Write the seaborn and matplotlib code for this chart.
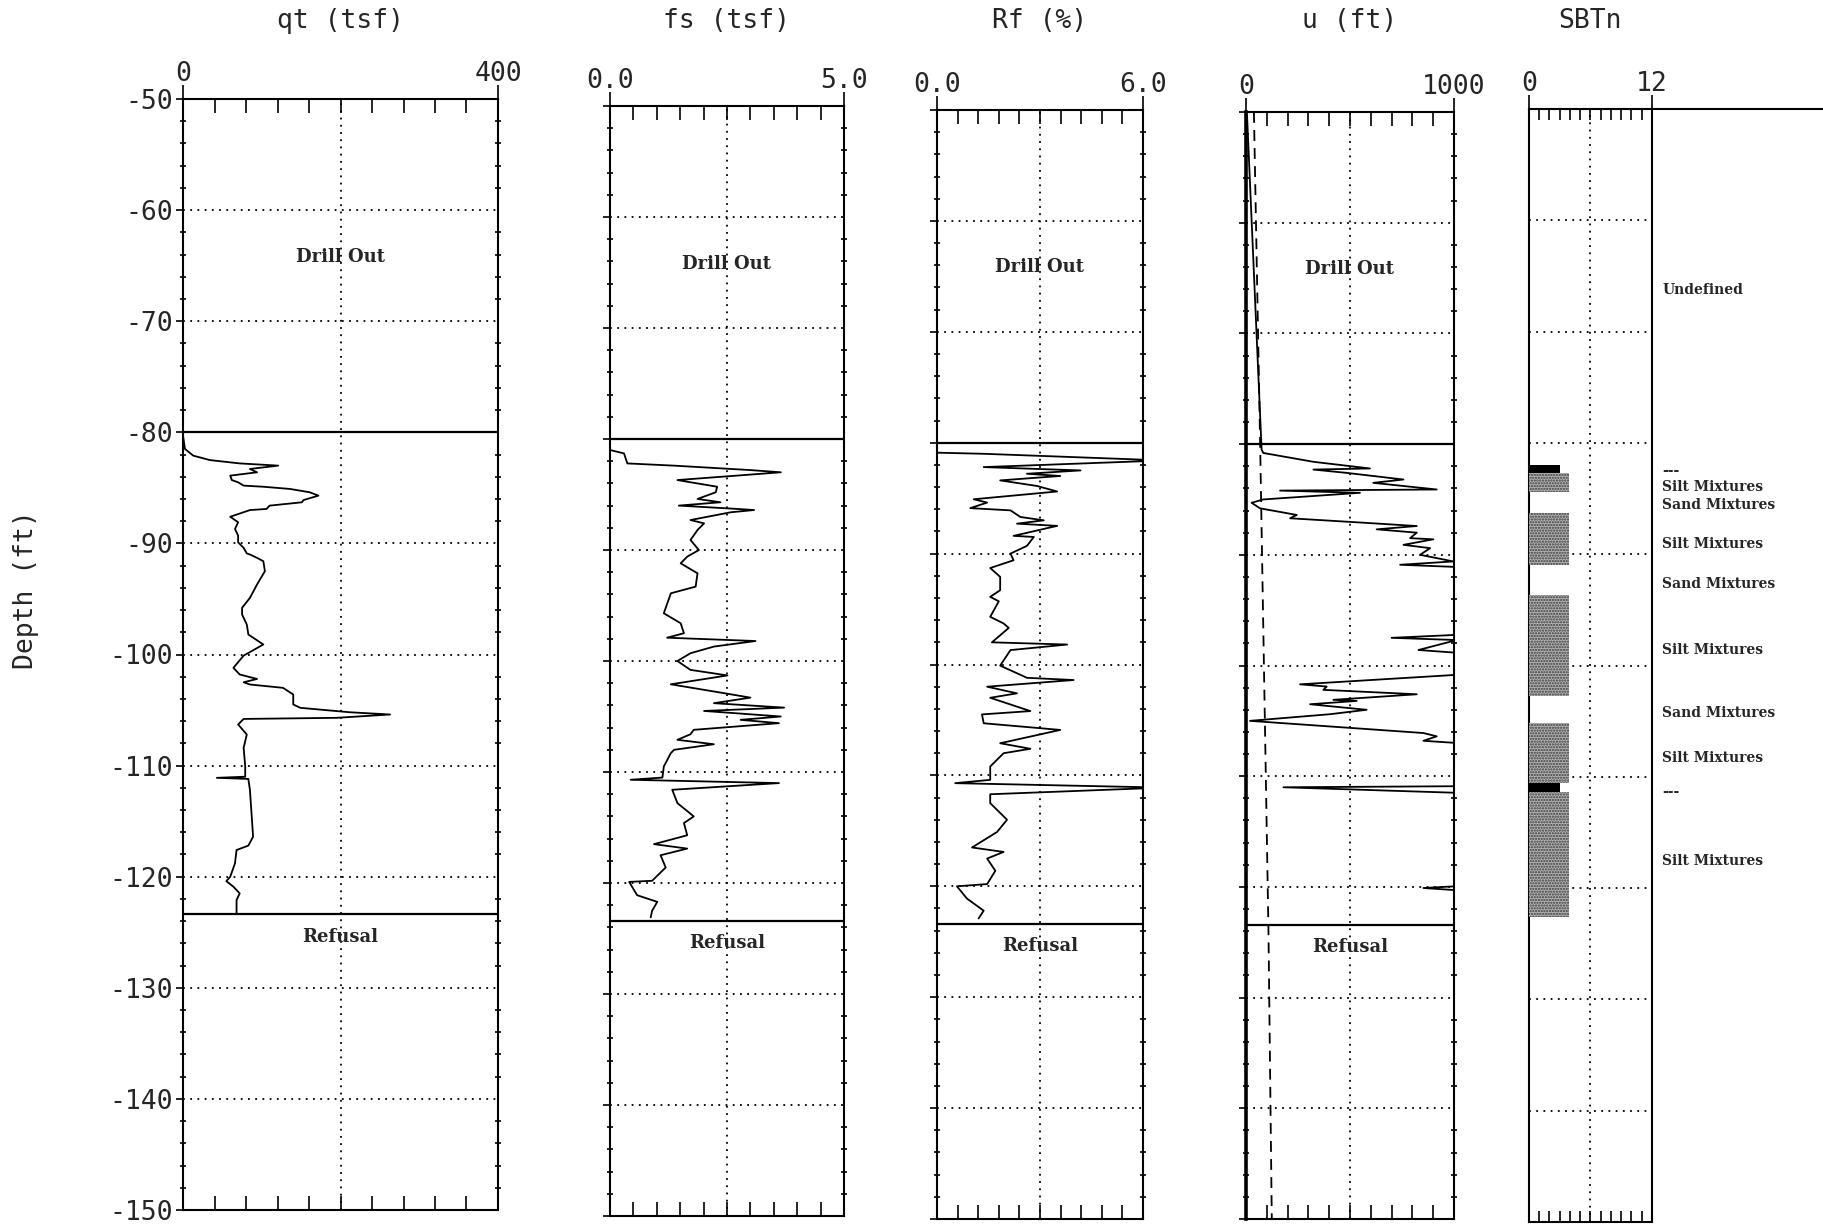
import matplotlib
matplotlib.use('Agg')
from matplotlib import pyplot as plt
from matplotlib.ticker import MultipleLocator, FixedLocator
import seaborn as sns

# ---- values (depth in ft) ----
qt_depth = [-80.3, -81.5, -82.1, -82.5, -82.8, -83.0, -83.3, -83.6, -83.9, -84.3,
            -84.5, -84.8, -84.9, -85.1, -85.4, -85.7, -86.1, -86.3, -86.6, -86.9,
            -87.0, -87.6, -88.1, -88.7, -89.3, -89.9, -90.4, -90.9, -91.0, -91.3,
            -91.6, -92.5, -93.7, -94.9, -95.8, -96.4, -97.3, -98.2, -99.1, -100.1,
            -101.2, -101.8, -102.2, -102.5, -102.7, -103.0, -103.6, -104.5, -104.8, -105.2,
            -105.4, -105.7, -105.8, -106.3, -107.2, -108.4, -110.1, -111.0, -111.1, -111.2,
            -112.2, -114.3, -116.4, -117.2, -117.6, -118.8, -120.0, -120.4, -120.9, -121.5,
            -122.1, -123.3]
qt_val = [0, 2.5, 13, 34, 72, 121, 85, 94, 60, 62,
          70, 77, 102, 136, 161, 172, 153, 151, 110, 106,
          85, 60, 70, 66, 70, 70, 77, 81, 85, 94,
          102, 104, 94, 85, 75, 75, 81, 83, 102, 77,
          64, 72, 94, 77, 85, 127, 140, 140, 149, 212,
          263, 195, 77, 70, 81, 77, 79, 79, 43, 83,
          85, 87, 89, 83, 68, 66, 60, 55, 64, 72,
          68, 68]

fs_depth = [-81.0, -81.3, -82.2, -82.4, -82.8, -83.0, -83.7, -84.3, -84.8, -85.4,
            -85.7, -86.0, -86.3, -86.4, -86.6, -87.3, -87.6, -88.2, -89.1, -90.0,
            -90.6, -91.2, -92.1, -93.3, -93.9, -95.7, -96.6, -97.5, -97.9, -98.2,
            -98.7, -99.3, -100.0, -100.8, -101.3, -102.1, -102.9, -103.3, -103.8, -104.2,
            -104.5, -105.0, -105.3, -105.6, -106.2, -106.6, -107.1, -107.5, -108.0, -108.3,
            -109.5, -110.5, -110.7, -111.0, -111.6, -112.8, -114.0, -114.6, -115.7, -116.5,
            -116.9, -117.5, -118.6, -119.8, -119.9, -121.1, -121.7, -122.5, -123.1]
fs_val = [0.01, 0.30, 0.37, 1.37, 3.00, 3.65, 1.44, 2.29, 2.26, 1.87,
          2.36, 1.47, 2.72, 3.08, 2.58, 1.72, 2.01, 1.87, 1.72, 1.90,
          1.65, 1.51, 1.87, 1.83, 1.30, 1.15, 1.51, 1.58, 1.22, 3.11,
          2.22, 1.72, 1.44, 1.72, 2.51, 1.30, 2.44, 3.00, 2.22, 3.72,
          2.01, 3.65, 2.79, 3.61, 1.79, 1.72, 1.44, 2.22, 1.37, 1.30,
          1.15, 1.12, 0.44, 3.61, 1.33, 1.44, 1.79, 1.58, 1.65, 0.94,
          1.65, 1.08, 1.19, 0.90, 0.41, 0.58, 1.01, 0.90, 0.87]

rf_depth = [-80.9, -81.0, -81.6, -82.2, -82.5, -82.8, -83.0, -83.4, -83.9, -84.4,
            -85.1, -85.4, -85.9, -86.1, -86.7, -87.0, -87.3, -87.5, -88.4, -88.5,
            -89.3, -90.0, -90.6, -91.3, -92.1, -93.3, -93.9, -94.3, -95.7, -96.3,
            -96.7, -98.0, -98.2, -98.7, -100.1, -101.2, -101.4, -102.0, -102.6, -103.0,
            -104.2, -104.5, -105.3, -105.9, -107.1, -107.6, -108.0, -109.2, -110.4, -110.7,
            -111.1, -111.7, -112.5, -114.0, -115.1, -116.5, -116.9, -117.5, -118.6, -119.8,
            -120.0, -121.1, -122.2, -122.9]
rf_val = [0.0, 1.36, 6.6, 1.36, 4.18, 2.62, 3.59, 1.84, 2.91, 3.50,
          1.07, 1.46, 0.97, 2.14, 2.43, 3.11, 2.33, 3.50, 2.23, 2.82,
          2.62, 2.14, 2.23, 1.55, 1.84, 1.84, 1.55, 1.80, 1.55, 1.94,
          2.09, 1.60, 3.79, 2.14, 1.84, 2.62, 3.98, 1.46, 2.33, 1.55,
          2.72, 1.31, 1.36, 3.59, 1.84, 2.72, 1.94, 1.55, 1.55, 0.53,
          6.6, 1.55, 1.55, 2.04, 1.75, 1.02, 1.94, 1.46, 1.70, 1.46,
          0.58, 0.87, 1.36, 1.21]

u_depth = [-50.3, -80.5, -80.8, -81.6, -82.2, -82.3, -82.6, -83.2, -83.5, -84.1,
           -84.2, -84.4, -85.0, -85.3, -85.8, -86.4, -86.7, -87.1, -87.4, -87.7,
           -88.0, -88.5, -88.6, -89.1, -89.4, -90.0, -90.6, -90.9, -91.1, -91.5,
           -97.2, -97.5, -97.7, -98.6, -98.9, -100.8, -101.7, -101.9, -102.2, -102.6,
           -103.1, -103.2, -103.5, -104.0, -104.4, -105.0, -106.1, -106.4, -106.8, -107.0,
           -110.9, -111.0, -111.5, -119.9, -120.1, -120.3, -124.0]
u_val = [5, 75, 83, 324, 596, 324, 484, 757, 612, 917,
         164, 548, 83, 27, 67, 244, 212, 564, 821, 628,
         821, 789, 901, 757, 885, 837, 997, 741, 1013, 1050,
         1050, 700, 1013, 829, 1050, 1050, 260, 388, 372, 821,
         420, 532, 308, 580, 404, 19, 853, 917, 853, 1013,
         1050, 180, 1013, 1050, 853, 1013, 1050]

u0_depth = [-50, -80, -124, -150]
u0_val = [38, 68, 108, 124]

sbt_top = [-82.0, -82.7, -86.3, -93.7, -105.2, -110.6, -111.4]
sbt_bot = [-82.7, -84.4, -91.0, -102.7, -110.6, -111.4, -122.6]
sbt_val = [3.0, 3.9, 3.9, 3.9, 3.9, 3.0, 3.9]
sbt_solid = [True, False, False, False, False, True, False]

sbt_labels = ['Undefined', '---', 'Silt Mixtures', 'Sand Mixtures', 'Silt Mixtures',
              'Sand Mixtures', 'Silt Mixtures', 'Sand Mixtures', 'Silt Mixtures',
              '---', 'Silt Mixtures']
sbt_label_depth = [-66.3, -82.5, -84.0, -85.6, -89.1, -92.7, -98.6, -104.3, -108.3,
                   -111.4, -117.6]

drill_out_end = -80.0
refusal = -123.4

sns.set_style('ticks')
plt.rcParams['font.family'] = ['DejaVu Sans Mono', 'DejaVu Sans']
plt.rcParams['axes.unicode_minus'] = False
plt.rcParams['hatch.linewidth'] = 1.1

W, H = 1824, 1225
fig = plt.figure(figsize=(W / 100, H / 100), dpi=100)

# panel: title, xmax, tick labels, left px, right px, top px, bottom px
panels = [
    ('qt (tsf)', 400, ['0', '400'], 183, 498, 99, 1210),
    ('fs (tsf)', 5.0, ['0.0', '5.0'], 610, 844, 106, 1216),
    ('Rf (%)', 6.0, ['0.0', '6.0'], 937, 1143, 110, 1219),
    ('u (ft)', 1000, ['0', '1000'], 1246, 1454, 112, 1219),
    ('SBTn', 12, ['0', '12'], 1529, 1652, 109, 1222),
]
dot = (0, (1, 3))
axes = []
for i, (title, xmax, tlabels, x0, x1, y0, y1) in enumerate(panels):
    ax = fig.add_axes([x0 / W, 1 - y1 / H, (x1 - x0) / W, (y1 - y0) / H])
    ax.set_xlim(0, xmax)
    ax.set_ylim(-150, -50)
    for s in ax.spines.values():
        s.set_linewidth(1.5)
        s.set_color('black')
    ax.xaxis.set_major_locator(FixedLocator([0, xmax]))
    ax.set_xticklabels(tlabels)
    nminor = 12 if xmax == 12 else 10
    ax.xaxis.set_minor_locator(MultipleLocator(xmax / nminor))
    ax.tick_params(axis='x', which='major', top=True, bottom=False, labeltop=True,
                   labelbottom=False, direction='out', length=10, width=1.2,
                   pad=-1.5, labelsize=19, color='black')
    ax.tick_params(axis='x', which='minor', top=True, bottom=True, direction='in',
                   length=10 if i < 4 else 8, width=1.2, color='black')
    ax.yaxis.set_major_locator(MultipleLocator(10))
    if i < 4:
        ax.yaxis.set_minor_locator(MultipleLocator(2))
        ax.tick_params(axis='y', which='major', left=True, right=False, direction='out',
                       length=5, width=1.2, labelsize=19, pad=2, color='black')
        ax.tick_params(axis='y', which='minor', left=True, right=True, direction='inout',
                       length=4.5, width=1.2, color='black')
    else:
        ax.tick_params(axis='y', which='both', left=False, right=False)
    if i > 0:
        ax.tick_params(axis='y', labelleft=False)
    ax.grid(axis='y', which='major', linestyle=dot, linewidth=1.3, color='black')
    ax.axvline(xmax / 2, linestyle=dot, linewidth=1.3, color='black')
    fig.text((x0 + x1) / 2 / W, 1 - 21 / H, title, ha='center', va='center', fontsize=19)
    if i < 4:
        ax.axhline(drill_out_end, color='black', linewidth=1.6)
        ax.axhline(refusal, color='black', linewidth=1.6)
        ax.text(xmax / 2, -64.2, 'Drill Out', ha='center', va='center',
                family='DejaVu Serif', fontsize=13, fontweight='bold')
        ax.text(xmax / 2, -125.4, 'Refusal', ha='center', va='center',
                family='DejaVu Serif', fontsize=13, fontweight='bold')
    axes.append(ax)

ax_qt, ax_fs, ax_rf, ax_u, ax_sbt = axes
trace = dict(color='black', linewidth=1.3, sort=False, estimator=None, legend=False)
sns.lineplot(x=qt_val, y=qt_depth, ax=ax_qt, **trace)
sns.lineplot(x=fs_val, y=fs_depth, ax=ax_fs, **trace)
sns.lineplot(x=rf_val, y=rf_depth, ax=ax_rf, **trace)
sns.lineplot(x=u_val, y=u_depth, ax=ax_u, **trace)
sns.lineplot(x=u0_val, y=u0_depth, ax=ax_u, color='black', linewidth=1.3, sort=False,
             estimator=None, legend=False, linestyle=(0, (6, 4)))
ax_u.spines['left'].set_linewidth(2.6)
for a in axes:
    a.set_xlabel('')
    a.set_ylabel('')

# soil behaviour type column
for top, bot, val, solid in zip(sbt_top, sbt_bot, sbt_val, sbt_solid):
    if solid:
        ax_sbt.barh((top + bot) / 2, val, height=top - bot, left=0, color='black',
                    linewidth=0, zorder=3)
    else:
        ax_sbt.barh((top + bot) / 2, val, height=top - bot, left=0, facecolor='#b4b4b4',
                    edgecolor='#3a3a3a', hatch='......', linewidth=0, zorder=3)
for lab, d in zip(sbt_labels, sbt_label_depth):
    ax_sbt.text(13.0, d, lab, ha='left', va='center', family='DejaVu Serif',
                fontsize=10, fontweight='bold', clip_on=False)
ax_sbt.set_ylim(-150, -50)
ax_sbt.set_xlim(0, 12)

# long top rule to the right of the SBTn column
ytop = 1 - 109 / H
fig.add_artist(plt.Line2D([1652 / W, 1.0], [ytop, ytop], transform=fig.transFigure,
                          color='black', linewidth=1.5))

fig.text(26 / W, 1 - 590 / H, 'Depth (ft)', rotation=90, ha='center', va='center',
         fontsize=19)

fig.savefig('out.png', dpi=100)
